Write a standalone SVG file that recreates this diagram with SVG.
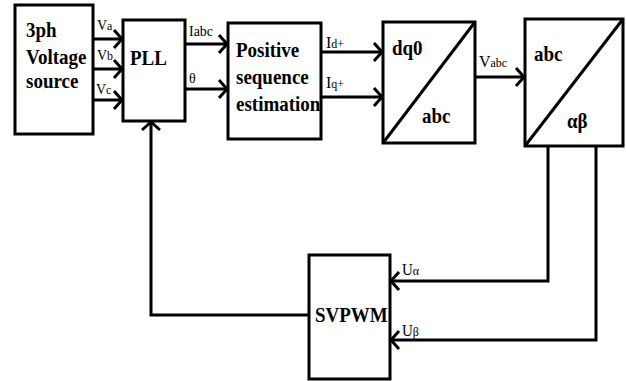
<svg xmlns="http://www.w3.org/2000/svg" width="626" height="381" viewBox="0 0 626 381">
<style>
.box{fill:#fff;stroke:#000;stroke-width:3}
.ln{fill:none;stroke:#000;stroke-width:3}
.bt{font-family:"Liberation Serif","Times New Roman",serif;font-weight:bold;font-size:19px;fill:#000}
.lb{font-family:"Liberation Serif","Times New Roman",serif;font-size:14px;fill:#000}
.sb{font-size:12px}
</style>
<defs>
<marker id="arr" markerUnits="userSpaceOnUse" markerWidth="20" markerHeight="20" refX="10" refY="10" orient="auto" viewBox="0 0 20 20">
<path d="M2,1 L10,10 L2,19" fill="none" stroke="#000" stroke-width="3"/>
</marker>
</defs>
<g id="connectors">
<line class="ln" x1="92" y1="39" x2="122" y2="39" marker-end="url(#arr)"/>
<line class="ln" x1="92" y1="69" x2="122" y2="69" marker-end="url(#arr)"/>
<line class="ln" x1="90" y1="100" x2="122" y2="100" marker-end="url(#arr)"/>
<line class="ln" x1="185" y1="44" x2="227" y2="44" marker-end="url(#arr)"/>
<line class="ln" x1="185" y1="89" x2="227" y2="89" marker-end="url(#arr)"/>
<line class="ln" x1="321" y1="52" x2="382" y2="52" marker-end="url(#arr)"/>
<line class="ln" x1="321" y1="97" x2="382" y2="97" marker-end="url(#arr)"/>
<line class="ln" x1="475" y1="77" x2="524" y2="77" marker-end="url(#arr)"/>
<polyline class="ln" points="548,146 548,281 391,281" marker-end="url(#arr)"/>
<polyline class="ln" points="596,146 596,340 391,340" marker-end="url(#arr)"/>
<polyline class="ln" points="309,315 151,315 151,122" marker-end="url(#arr)"/>
<text class="lb" transform="translate(97,30) scale(1,1.1)">V<tspan class="sb">a</tspan></text>
<text class="lb" transform="translate(97,60) scale(1,1.1)">V<tspan class="sb">b</tspan></text>
<text class="lb" transform="translate(96,94) scale(1,1.1)">V<tspan class="sb">c</tspan></text>
<text class="lb" transform="translate(189,36) scale(1,1.1)">Iabc</text>
<text class="lb" transform="translate(189,83) scale(1,1.1)">θ</text>
<text class="lb" transform="translate(326,48) scale(1,1.1)" style="font-size:16px">I<tspan class="sb">d+</tspan></text>
<text class="lb" transform="translate(326,88) scale(1,1.1)" style="font-size:16px">I<tspan class="sb">q+</tspan></text>
<text class="lb" transform="translate(479,67) scale(1,1.1)" style="font-size:16px">V<tspan style="font-size:12px">abc</tspan></text>
<text class="lb" transform="translate(402,275) scale(1,1.1)" style="font-size:15px">U<tspan class="sb">α</tspan></text>
<text class="lb" transform="translate(402,336) scale(1,1.1)" style="font-size:15px">U<tspan class="sb">β</tspan></text>
</g>
<g id="source">
<rect class="box" x="15" y="5" width="78" height="129"/>
<text class="bt" transform="translate(26,37) scale(1,1.12)">3ph</text>
<text class="bt" transform="translate(26,64) scale(1,1.12)">Voltage</text>
<text class="bt" transform="translate(26,88) scale(1,1.12)">source</text>
</g>
<g id="pll">
<rect class="box" x="123" y="20" width="62" height="101"/>
<text class="bt" transform="translate(130,65) scale(1,1.12)">PLL</text>
</g>
<g id="positive">
<rect class="box" x="228" y="23" width="93" height="116"/>
<text class="bt" transform="translate(236,57) scale(1,1.12)">Positive</text>
<text class="bt" transform="translate(236,84) scale(1,1.12)">sequence</text>
<text class="bt" transform="translate(236,111) scale(1,1.12)">estimation</text>
</g>
<g id="dq0abc">
<rect class="box" x="383" y="22" width="92" height="121"/>
<line class="ln" x1="383" y1="143" x2="475" y2="22"/>
<text class="bt" transform="translate(392,55) scale(1,1.12)">dq0</text>
<text class="bt" transform="translate(422,123) scale(1,1.12)">abc</text>
</g>
<g id="abcab">
<rect class="box" x="525" y="19" width="98" height="127"/>
<line class="ln" x1="525" y1="146" x2="623" y2="19"/>
<text class="bt" transform="translate(534,61) scale(1,1.12)">abc</text>
<text class="bt" transform="translate(567,128) scale(1,1.12)">αβ</text>
</g>
<g id="svpwm">
<rect class="box" x="309" y="255" width="81" height="124"/>
<text class="bt" transform="translate(315,322) scale(1,1.12)">SVPWM</text>
</g>
</svg>
